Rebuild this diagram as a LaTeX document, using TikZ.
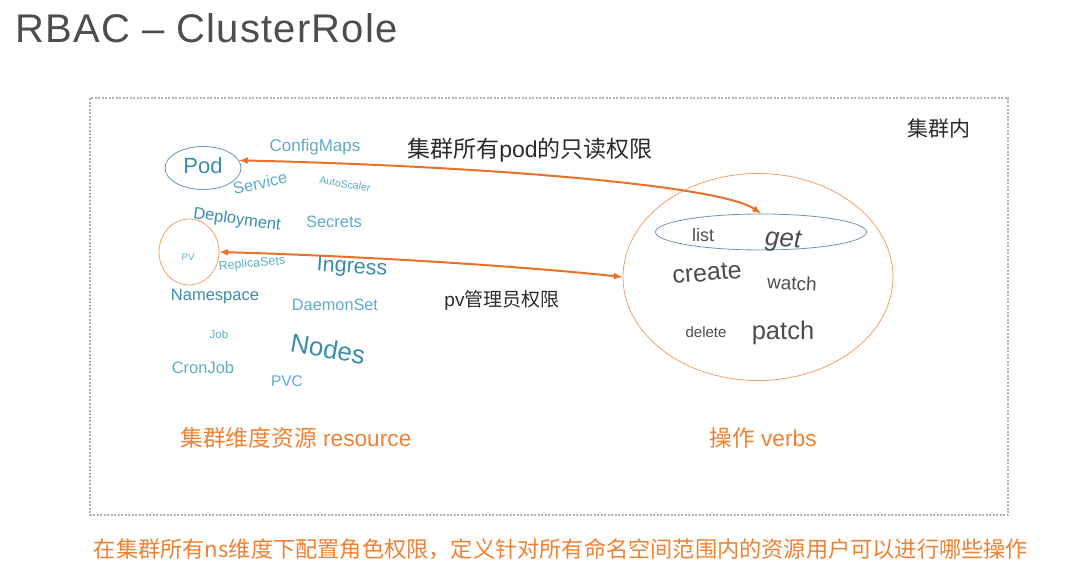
\documentclass[tikz,border=0pt]{standalone}
\usepackage{fontspec}
\usepackage{xcolor}
\usetikzlibrary{shapes.geometric}
\setmainfont{Liberation Sans}
\newfontfamily\cjk{Noto Sans CJK SC}
\newfontfamily\titlefont[LetterSpace=3]{Liberation Sans}
\newcommand{\fs}[1]{\fontsize{#1}{#1}\selectfont}

\definecolor{cloudlight}{HTML}{5FAACB}
\definecolor{clouddark}{HTML}{3A8DAA}
\definecolor{arroworange}{HTML}{E9712A}
\definecolor{textorange}{HTML}{EF8133}
\definecolor{verbgray}{HTML}{4D4D4D}
\definecolor{labelgray}{HTML}{2B2B2B}
\definecolor{podline}{HTML}{6F93B2}
\definecolor{ringorange}{HTML}{F0A06A}

\tikzset{
    word/.style={text=cloudlight, inner sep=0pt},
    bigword/.style={text=clouddark, inner sep=0pt},
    verb/.style={text=verbgray, inner sep=0pt},
    ring/.style={draw=#1, ellipse, line width=0.8pt, inner sep=0pt},
    link/.style={arroworange, line width=2pt, <->, >=latex}
}

\begin{document}
\begin{tikzpicture}[x=1pt, y=-1pt]
    \useasboundingbox (0,0) rectangle (1089,586);

    % title
    \node[anchor=base west, inner sep=0pt, text=verbgray] (title) at (15,43) {\titlefont\fs{40}RBAC – ClusterRole};

    % frame
    \draw[gray!60, line width=1.2pt, dash pattern=on 2pt off 1.5pt] (90,98) rectangle (1008,515);
    \node[text=labelgray, inner sep=0pt] (inside) at (939,129) {\cjk\fs{21}集群内};

    % resource cloud
    \node[ring=podline, minimum width=76, minimum height=43] (pod) at (203,168) {};
    \node[bigword] (podtxt) at (203,166) {\fs{22}Pod};
    \node[word] (configmaps) at (315,147) {\fs{17}ConfigMaps};
    \node[word, rotate=12] (service) at (260,183) {\fs{16.5}Service};
    \node[word, rotate=-9] (autoscaler) at (345,184) {\fs{10.5}AutoScaler};
    \node[bigword, rotate=-8] (deployment) at (237,220) {\fs{16.5}Deployment};
    \node[word] (secrets) at (334,222) {\fs{16.5}Secrets};
    \node[ring=ringorange, minimum width=60, minimum height=66] (pv) at (189,252) {};
    \node[word] (pvtxt) at (188,257) {\fs{9.5}PV};
    \node[word, rotate=5] (replicasets) at (252,264) {\fs{12.5}ReplicaSets};
    \node[bigword, rotate=-4] (ingress) at (352,268) {\fs{21.5}Ingress};
    \node[bigword] (namespace) at (215,297) {\fs{16.5}Namespace};
    \node[word] (daemonset) at (335,305) {\fs{16.3}DaemonSet};
    \node[word] (job) at (219,334) {\fs{11.5}Job};
    \node[bigword, rotate=-10] (nodes) at (328,349) {\fs{26}Nodes};
    \node[word] (cronjob) at (203,368) {\fs{16.5}CronJob};
    \node[word] (pvc) at (287,381) {\fs{15.5}PVC};
    \node[text=textorange, inner sep=0pt] (resource) at (296,438) {\fs{22.7}{\cjk 集群维度资源} resource};

    % verbs
    \node[ring=ringorange, minimum width=270, minimum height=207] (verbs) at (758,277) {};
    \node[ring=podline, minimum width=211, minimum height=36] (getbox) at (761,232) {};
    \node[verb] (list) at (703,235) {\fs{18}list};
    \node[verb, rotate=-3] (get) at (783,241) {\fs{26}\itshape get};
    \node[verb, rotate=5] (create) at (707,273) {\fs{25}create};
    \node[verb, rotate=-3] (watch) at (792,283) {\fs{19}watch};
    \node[verb] (delete) at (706,332) {\fs{15}delete};
    \node[verb] (patch) at (783,333) {\fs{25.5}patch};
    \node[text=textorange, inner sep=0pt] (verbtitle) at (763,438) {\fs{22.7}{\cjk 操作} verbs};

    % links
    \draw[link] (pod.12) .. controls (480,166) and (720,185) .. (getbox.north);
    \draw[link] (pv.east) .. controls (360,256) and (520,266) .. (verbs.west);
    \node[text=labelgray, inner sep=0pt] (readonly) at (530,150) {\fs{23}{\cjk 集群所有}pod{\cjk 的只读权限}};
    \node[text=labelgray, inner sep=0pt] (pvadmin) at (502,300) {\fs{19}pv{\cjk 管理员权限}};

    % caption
    \node[text=textorange, inner sep=0pt] (caption) at (561,549) {\cjk\fs{22.2}在集群所有ns维度下配置角色权限，定义针对所有命名空间范围内的资源用户可以进行哪些操作};
\end{tikzpicture}
\end{document}
